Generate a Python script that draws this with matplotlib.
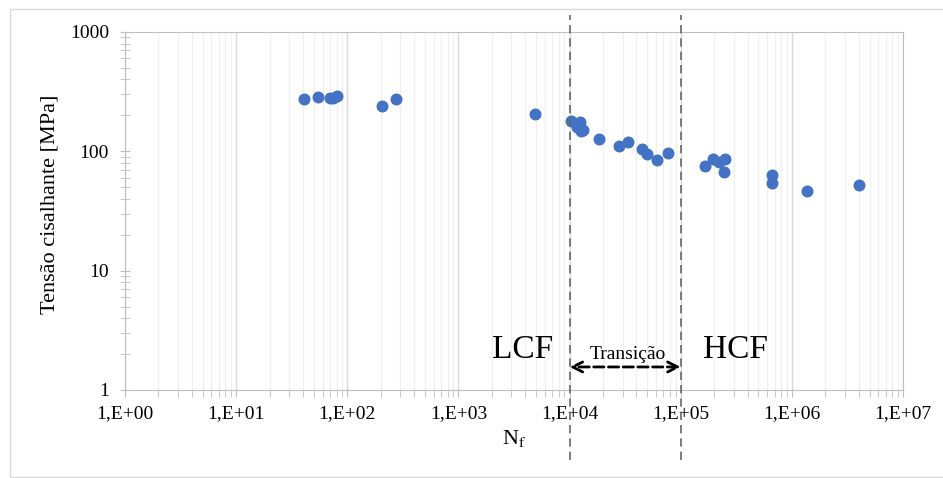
import matplotlib
matplotlib.use("Agg")
import matplotlib.pyplot as plt
from matplotlib.patches import Rectangle
from matplotlib.ticker import LogLocator, NullFormatter

# Datos (ciclos hasta falla, tension cisalhante)
ciclos = [41, 55, 70, 74, 81, 205, 275,
          4900, 10300, 11600, 12300, 12600, 13200, 18300, 28100, 33700,
          45000, 50200, 61800, 77600,
          166000, 197000, 223000, 251000, 246000, 662000, 662000,
          1380000, 3980000]
tensao = [274, 285, 280, 282, 292, 240, 274,
          206, 178, 160, 175, 148, 152, 126, 111, 120,
          105, 95, 85, 96,
          76, 87, 82, 86, 67, 63, 54,
          46.5, 52]

xticks = [1e0, 1e1, 1e2, 1e3, 1e4, 1e5, 1e6, 1e7]
xlabels = ['1,E+00', '1,E+01', '1,E+02', '1,E+03', '1,E+04', '1,E+05', '1,E+06', '1,E+07']
yticks = [1, 10, 100, 1000]
ylabels = ['1', '10', '100', '1000']

plt.rcParams['font.family'] = ['Liberation Serif', 'DejaVu Serif']
plt.rcParams['mathtext.fontset'] = 'stix'

fig = plt.figure(figsize=(9.43, 4.78), dpi=100)
ax = fig.add_axes([125/943, 1-390/478, (903-125)/943, (390-32)/478])

# marco del grafico
fig.patches.append(Rectangle((10/943, 1/478), 1, 1-10/478, transform=fig.transFigure,
                             fill=False, edgecolor='#d9d9d9', lw=1))

ax.scatter(ciclos, tensao, s=58, color='#4472C4', zorder=3)

ax.set_xscale('log')
ax.set_yscale('log')
ax.set_xlim(1, 1e7)
ax.set_ylim(1, 1000)

ax.set_xticks(xticks)
ax.set_xticklabels(xlabels)
ax.set_yticks(yticks)
ax.set_yticklabels(ylabels)
ax.xaxis.set_minor_locator(LogLocator(base=10, subs=range(2, 10), numticks=20))
ax.yaxis.set_minor_locator(LogLocator(base=10, subs=range(2, 10), numticks=20))
ax.xaxis.set_minor_formatter(NullFormatter())
ax.yaxis.set_minor_formatter(NullFormatter())

ax.grid(which='major', axis='x', color='#d9d9d9', lw=1)
ax.grid(which='minor', axis='x', color='#f0f0f0', lw=1)
ax.set_axisbelow(True)

for s in ax.spines.values():
    s.set_color('#bfbfbf')
ax.tick_params(which='both', colors='#bfbfbf', labelcolor='black', labelsize=14)
ax.tick_params(axis='x', which='both', length=5, direction='out', pad=6)
ax.tick_params(axis='y', which='both', length=7, direction='inout', pad=8)

ax.set_ylabel('Tensão cisalhante [MPa]', fontsize=16)
ax.yaxis.set_label_coords(-0.084, 0.52)
ax.set_xlabel(r'N$_\mathrm{f}$', fontsize=16, labelpad=4)

# lineas de transicion
for xv in [1e4, 1e5]:
    ax.axvline(xv, ymin=-0.196, ymax=1.047, color='#666666', ls=(0, (5, 3)), lw=1.2,
               clip_on=False, zorder=4)

ax.annotate('', xy=(1e4, 1.56), xytext=(1e5, 1.56),
            arrowprops=dict(arrowstyle='<->', ls='--', lw=2, color='black',
                            mutation_scale=18, shrinkA=0, shrinkB=0))
ax.text(10**4.52, 1.97, 'Transição', ha='center', va='center', fontsize=14)
ax.text(10**3.58, 1.85, 'LCF', ha='center', va='baseline', fontsize=24)
ax.text(10**5.49, 1.85, 'HCF', ha='center', va='baseline', fontsize=24)

plt.savefig('out.png', dpi=100)
